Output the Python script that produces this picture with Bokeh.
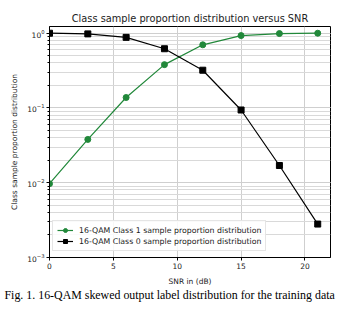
from bokeh.plotting import figure
from bokeh.models import Range1d, Title, Legend, LegendItem, FixedTicker
from bokeh.embed import file_html
from bokeh.resources import INLINE

snr = [0, 3, 6, 9, 12, 15, 18, 21]
class1 = [0.0097, 0.038, 0.138, 0.38, 0.70, 0.93, 0.99, 1.0]
class0 = [1.0, 0.98, 0.88, 0.62, 0.32, 0.094, 0.017, 0.0028]
x_ticks = [0, 5, 10, 15, 20]
title_text = "Class sample proportion distribution versus SNR"
xlabel = "SNR in (dB)"
ylabel = "Class sample proportion distribution"
caption = "Fig. 1. 16-QAM skewed output label distribution for the training data"
label1 = "16-QAM Class 1 sample proportion distribution"
label0 = "16-QAM Class 0 sample proportion distribution"

p = figure(width=358, height=309, output_backend="svg", toolbar_location=None,
           y_axis_type="log", x_range=Range1d(0, 22), y_range=Range1d(1e-3, 1.23),
           min_border_left=49, min_border_right=28, min_border_top=26, min_border_bottom=52)
p.background_fill_color = "white"
p.border_fill_color = "white"
p.outline_line_color = "black"
p.outline_line_width = 1

p.title.text = title_text
p.title.text_font = "DejaVu Sans"
p.title.text_font_size = "9.8px"
p.title.text_font_style = "normal"
p.title.text_color = "#222222"
p.title.align = "center"
p.title.offset = 0
p.title.standoff = 6

cap = Title(text=caption, text_font="Liberation Serif", text_font_size="11.9px",
            text_font_style="normal", text_color="black", align="left", offset=-45, standoff=-5)
p.add_layout(cap, "below")

p.xaxis.ticker = FixedTicker(ticks=x_ticks)
p.xaxis.axis_label = xlabel
p.yaxis.axis_label = ylabel
for ax in (p.xaxis, p.yaxis):
    ax.axis_label_text_font = "DejaVu Sans"
    ax.axis_label_text_font_size = "7.5px"
    ax.axis_label_text_font_style = "normal"
    ax.axis_label_text_color = "#222222"
    ax.major_label_text_font = "DejaVu Sans"
    ax.major_label_text_font_size = "7.5px"
    ax.major_label_text_color = "#222222"
    ax.major_tick_in = 0
    ax.major_tick_out = 3
    ax.minor_tick_in = 0
    ax.minor_tick_out = 2
    ax.axis_line_color = "black"
    ax.major_tick_line_color = "black"
    ax.minor_tick_line_color = "black"
p.xaxis.minor_tick_line_color = None
p.xaxis.axis_label_standoff = 5
p.yaxis.axis_label_standoff = 5
p.xaxis.major_label_standoff = 2
p.yaxis.major_label_standoff = 2

p.xgrid.grid_line_color = "#cfcfcf"
p.ygrid.grid_line_color = "#cfcfcf"
p.ygrid.minor_grid_line_color = "#d9d9d9"
p.xgrid.grid_line_width = 1
p.ygrid.grid_line_width = 1

green = "#21883a"
r1 = p.line(snr, class1, line_color=green, line_width=1.2)
m1 = p.scatter(snr, class1, marker="circle", size=6, fill_color=green, line_color=green)
r0 = p.line(snr, class0, line_color="black", line_width=1.2)
m0 = p.scatter(snr, class0, marker="square", size=6, fill_color="black", line_color="black")

legend = Legend(items=[LegendItem(label=label1, renderers=[r1, m1]),
                       LegendItem(label=label0, renderers=[r0, m0])],
                location=(3, 6), margin=0, padding=4, spacing=1,
                label_text_font="DejaVu Sans", label_text_font_size="7.8px",
                label_text_color="#222222", glyph_width=16, glyph_height=10,
                label_height=10, label_standoff=6,
                border_line_color="#cccccc", border_line_width=1,
                background_fill_alpha=0.85)
p.add_layout(legend, "center")

open("out.html", "w").write(file_html(p, INLINE))
